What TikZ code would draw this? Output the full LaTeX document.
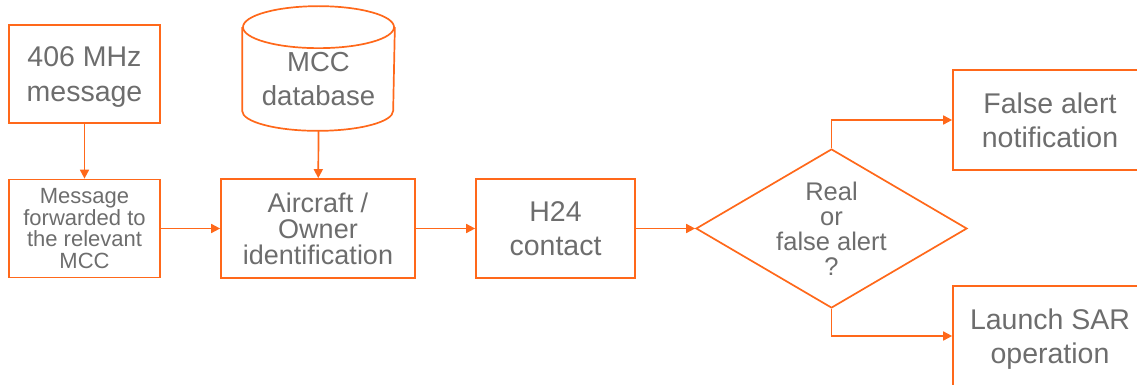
\documentclass[tikz,border=0pt]{standalone}
\usepackage{fontspec}
\setmainfont{Liberation Sans}
\usetikzlibrary{arrows.meta,shapes.geometric}
\definecolor{sarorange}{RGB}{255,104,26}
\definecolor{sargrey}{RGB}{109,109,109}
\newcommand{\fs}[2]{\fontsize{#1}{#2}\selectfont}

\begin{document}
\begin{tikzpicture}[x=1pt,y=1pt,
    box/.style={draw=sarorange,line width=1.7pt,align=center,text=sargrey,inner sep=0pt},
    link/.style={draw=sarorange,line width=1.7pt,-{Triangle[length=9pt,width=9pt]}}]
    \clip (0,0) rectangle (1137,-385);
    % left column
    \node[box,text depth=0pt,minimum width=151pt,minimum height=98pt,font=\fs{28.5}{35}] (mhz) at (84.5,-74) {406 MHz\\message};
    \node[box,minimum width=151pt,minimum height=98pt,font=\fs{22}{21.7}] (fwd) at (84.5,-228.5) {Message\\forwarded to\\the relevant\\MCC};
    % database cylinder
    \node[box,draw=none,minimum width=151pt,minimum height=102pt,font=\fs{27.5}{34}] (db) at (318.5,-79) {MCC\\database};
    \draw[sarorange,line width=1.7pt] (db.north west) -- ([yshift=20pt]db.south west)
        arc[start angle=180,end angle=360,x radius=75.5,y radius=20] -- (db.north east);
    \draw[sarorange,line width=1.7pt] (db.north) ellipse[x radius=75.5,y radius=21];
    \node[box,minimum width=194pt,minimum height=99pt,font=\fs{27}{26}] (air) at (318,-228.5) {Aircraft /\\Owner\\identification};
    \node[box,minimum width=159pt,minimum height=99pt,font=\fs{28.5}{34}] (h24) at (555.5,-228.5) {H24\\contact};
    % decision
    \node[box,diamond,aspect=1.7,minimum width=271pt,minimum height=159pt,font=\fs{25.5}{25}] (dec) at (831.5,-228.5) {Real\\or\\false alert\\?};
    \node[box,minimum width=194pt,minimum height=100pt,font=\fs{28.5}{34}] (fa) at (1050,-120) {False alert\\notification};
    \node[box,text depth=0pt,minimum width=194pt,minimum height=100pt,font=\fs{28.5}{34}] (sar) at (1050,-336) {Launch SAR\\operation};
    % connectors
    \draw[link] (mhz) -- (fwd);
    \draw[link] (db.south) -- (air);
    \draw[link] (fwd) -- (air);
    \draw[link] (air) -- (h24);
    \draw[link] (h24) -- (dec);
    \draw[link] (dec.north) |- (fa.west);
    \draw[link] (dec.south) |- (sar.west);
\end{tikzpicture}
\end{document}
